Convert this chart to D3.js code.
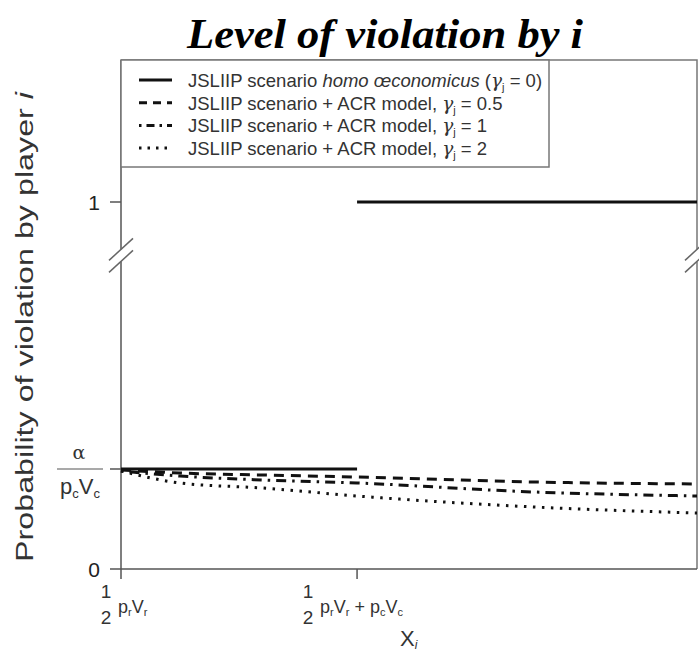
<!DOCTYPE html>
<html>
<head>
<meta charset="utf-8">
<script src="https://cdn.jsdelivr.net/npm/d3@7"></script>
<style>
  body { margin: 0; background: #fff; }
  svg { display: block; }
</style>
</head>
<body>
<div id="chart"></div>
<script>

// x: 0 = 1/2 prVr, 1 = 1/2 prVr + pcVc ; y: alphaLevel stands for alpha/(pcVc)
const alphaLevel = 0.25;
const xMax = 2.44;
const breakAt = 0.85;

const xPoints = [0, 0.25, 0.6, 1, 1.75, 2.44];
const acrHalf = [0.2475, 0.24, 0.235, 0.23, 0.2175, 0.2125];
const acrOne = [0.245, 0.2325, 0.2225, 0.215, 0.1925, 0.1825];
const acrTwo = [0.245, 0.215, 0.2025, 0.1825, 0.155, 0.14];

// homo oeconomicus: two flat pieces (no vertical jump drawn)
const homoX = [0, 1, 1, 2.44];
const homoY = [alphaLevel, alphaLevel, 1, 1];

const legendLabels = [
    'JSLIIP scenario ',
    'JSLIIP scenario + ACR model, ',
    'JSLIIP scenario + ACR model, ',
    'JSLIIP scenario + ACR model, '
];
const legendGammas = ['0', '0.5', '1', '2'];

const width = 699;
const height = 654;

const svg = d3.select('#chart')
    .append('svg')
    .attr('width', width)
    .attr('height', height);

svg.append('rect').attr('width', width).attr('height', height).attr('fill', '#fff');

const x = d3.scaleLinear()
    .domain([0, xMax])
    .range([121, 697]);

// broken axis: lower part and upper part get their own stretch
const y = d3.scaleLinear()
    .domain([0, alphaLevel, 1])
    .range([569, 469, 202]);

const plotTop = 60;
const labelFont = 'Liberation Sans';

// title
svg.append('text')
    .attr('x', 385)
    .attr('y', 48)
    .attr('text-anchor', 'middle')
    .attr('textLength', 396)
    .attr('lengthAdjust', 'spacingAndGlyphs')
    .style('font-family', 'Liberation Serif')
    .style('font-weight', 'bold')
    .style('font-style', 'italic')
    .style('font-size', '42px')
    .text('Level of violation by i');

// plot frame (top and right)
svg.append('path')
    .attr('d', `M${x(0)},${plotTop} H${x(xMax)} V${y(0)}`)
    .attr('fill', 'none')
    .attr('stroke', '#777')
    .attr('stroke-width', 1.5);

// y axis
svg.append('line')
    .attr('x1', x(0)).attr('x2', x(0))
    .attr('y1', plotTop).attr('y2', y(0))
    .attr('stroke', '#555')
    .attr('stroke-width', 1.5);

// x axis
svg.append('line')
    .attr('x1', x(0)).attr('x2', x(xMax))
    .attr('y1', y(0)).attr('y2', y(0))
    .attr('stroke', '#555')
    .attr('stroke-width', 1.5);

// y ticks
[0, alphaLevel, 1].forEach(v => {
    svg.append('line')
        .attr('x1', x(0) - 11).attr('x2', x(0))
        .attr('y1', y(v)).attr('y2', y(v))
        .attr('stroke', '#555')
        .attr('stroke-width', 1.5);
});

// x ticks
[0, 1].forEach(v => {
    svg.append('line')
        .attr('x1', x(v)).attr('x2', x(v))
        .attr('y1', y(0)).attr('y2', y(0) + 10)
        .attr('stroke', '#555')
        .attr('stroke-width', 1.5);
});

// axis break marks on both sides
[x(0), x(xMax)].forEach(cx => {
    const cy = y(breakAt);
    svg.append('rect')
        .attr('x', cx - 3).attr('y', cy - 6)
        .attr('width', 6).attr('height', 12)
        .attr('fill', '#fff');
    [-6, 6].forEach(off => {
        svg.append('line')
            .attr('x1', cx - 12).attr('y1', cy + off + 11)
            .attr('x2', cx + 12).attr('y2', cy + off - 11)
            .attr('stroke', '#666')
            .attr('stroke-width', 1.5);
    });
});

// y tick labels
svg.append('text')
    .attr('x', 100).attr('y', y(1) + 8)
    .attr('text-anchor', 'end')
    .style('font-family', labelFont).style('font-size', '21px').attr('fill', '#222')
    .text('1');
svg.append('text')
    .attr('x', 100).attr('y', y(0) + 8)
    .attr('text-anchor', 'end')
    .style('font-family', labelFont).style('font-size', '21px').attr('fill', '#222')
    .text('0');

// alpha / (pc Vc) label
const fracX = 80;
svg.append('text')
    .attr('x', fracX - 1).attr('y', y(alphaLevel) - 10)
    .attr('text-anchor', 'middle')
    .style('font-family', 'DejaVu Serif').style('font-size', '19px').attr('fill', '#333')
    .text('α');
svg.append('line')
    .attr('x1', 57).attr('x2', 103)
    .attr('y1', y(alphaLevel)).attr('y2', y(alphaLevel))
    .attr('stroke', '#555').attr('stroke-width', 1.2);
const pv = svg.append('text')
    .attr('x', fracX).attr('y', y(alphaLevel) + 25)
    .attr('text-anchor', 'middle')
    .style('font-family', labelFont).style('font-size', '22px').attr('fill', '#333');
pv.append('tspan').text('p');
pv.append('tspan').attr('dy', 4).style('font-size', '13px').text('c');
pv.append('tspan').attr('dy', -4).text('V');
pv.append('tspan').attr('dy', 4).style('font-size', '13px').text('c');

// y axis title
svg.append('text')
    .attr('transform', `translate(33, ${327}) rotate(-90)`)
    .attr('text-anchor', 'middle')
    .attr('textLength', 470)
    .attr('lengthAdjust', 'spacingAndGlyphs')
    .style('font-family', labelFont).style('font-size', '23px').attr('fill', '#333')
    .call(t => {
        t.append('tspan').text('Probability of violation by player ');
        t.append('tspan').style('font-style', 'italic').text('i');
    });

// x tick labels
const xTickLabel = (px, withC) => {
    const g = svg.append('g').attr('transform', `translate(${px},0)`);
    g.append('text').attr('x', 6).attr('y', 598).attr('text-anchor', 'middle')
        .style('font-family', labelFont).style('font-size', '19px').attr('fill', '#333').text('1');
    g.append('text').attr('x', 6).attr('y', 624).attr('text-anchor', 'middle')
        .style('font-family', labelFont).style('font-size', '19px').attr('fill', '#333').text('2');
    const t = g.append('text').attr('x', 18).attr('y', 613)
        .style('font-family', labelFont).style('font-size', '18px').attr('fill', '#333');
    t.append('tspan').text('p');
    t.append('tspan').attr('dy', 3).style('font-size', '11px').text('r');
    t.append('tspan').attr('dy', -3).text('V');
    t.append('tspan').attr('dy', 3).style('font-size', '11px').text('r');
    if (withC) {
        t.append('tspan').attr('dy', -3).text(' + p');
        t.append('tspan').attr('dy', 3).style('font-size', '11px').text('c');
        t.append('tspan').attr('dy', -3).text('V');
        t.append('tspan').attr('dy', 3).style('font-size', '11px').text('c');
    }
};
xTickLabel(x(0) - 21, false);
xTickLabel(x(1) - 55, true);

// x axis title
const xt = svg.append('text')
    .attr('x', 400).attr('y', 646)
    .style('font-family', labelFont).style('font-size', '22px').attr('fill', '#333');
xt.append('tspan').text('X');
xt.append('tspan').attr('dy', 3).style('font-size', '12px').style('font-style', 'italic').text('i');

// data lines
const line = d3.line()
    .x(d => x(d[0]))
    .y(d => y(d[1]))
    .curve(d3.curveMonotoneX);

const series = [
    { values: acrHalf, dash: '10,7' },
    { values: acrOne, dash: '2.5,6,10,6' },
    { values: acrTwo, dash: '2.5,6.5' }
];

series.forEach(s => {
    svg.append('path')
        .datum(xPoints.map((v, i) => [v, s.values[i]]))
        .attr('d', line)
        .attr('fill', 'none')
        .attr('stroke', '#111')
        .attr('stroke-width', 3)
        .attr('stroke-dasharray', s.dash);
});

const flat = d3.line().x(d => x(d[0])).y(d => y(d[1]));
[[0, 1], [2, 3]].forEach(pair => {
    svg.append('path')
        .datum(pair.map(i => [homoX[i], homoY[i]]))
        .attr('d', flat)
        .attr('fill', 'none')
        .attr('stroke', '#111')
        .attr('stroke-width', 3);
});

// legend
const legend = svg.append('g');
legend.append('rect')
    .attr('x', x(0)).attr('y', plotTop)
    .attr('width', 549 - x(0)).attr('height', 107)
    .attr('fill', '#fff')
    .attr('stroke', '#777')
    .attr('stroke-width', 1.5);

const legendDash = [null, '8,6', '2.5,5,8,5', '2.5,6'];
legendLabels.forEach((lab, i) => {
    const ly = 80 + i * 22.7;
    legend.append('line')
        .attr('x1', 139).attr('x2', 172)
        .attr('y1', ly).attr('y2', ly)
        .attr('stroke', '#111')
        .attr('stroke-width', 3)
        .attr('stroke-dasharray', legendDash[i]);
    const t = legend.append('text')
        .attr('x', 188).attr('y', ly + 7)
        .style('font-family', labelFont).style('font-size', '18.5px').attr('fill', '#333');
    t.append('tspan').text(lab);
    if (i === 0) {
        t.append('tspan').style('font-style', 'italic').text('homo œconomicus');
        t.append('tspan').text(' (');
    }
    t.append('tspan').style('font-family', 'DejaVu Serif').style('font-style', 'italic').text('γ');
    t.append('tspan').attr('dy', 4).style('font-size', '11px').text('j');
    t.append('tspan').attr('dy', -4).text(' = ' + legendGammas[i] + (i === 0 ? ')' : ''));
});

</script>
</body>
</html>
